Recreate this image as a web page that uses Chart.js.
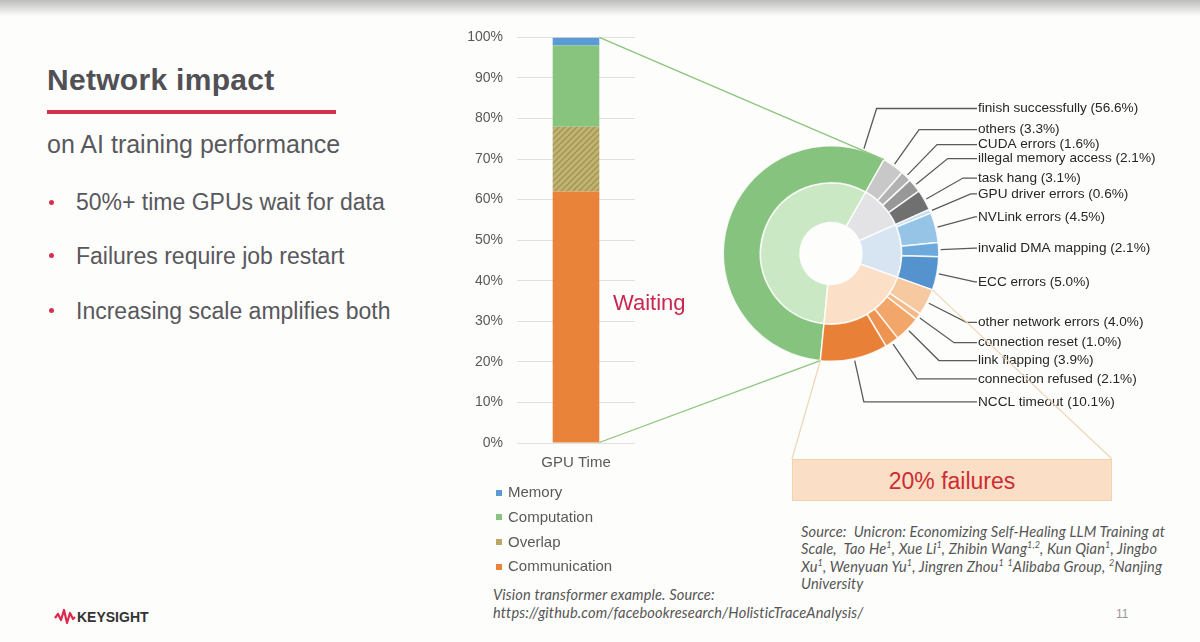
<!DOCTYPE html>
<html>
<head>
<meta charset="utf-8">
<script src="https://cdn.jsdelivr.net/npm/chart.js@4.4.1/dist/chart.umd.min.js"></script>
<style>
  body { margin:0; width:1200px; height:642px; position:relative; overflow:hidden; background:#fdfdfb;
         font-family:"Liberation Sans", Arial, sans-serif; }
  .abs { position:absolute; line-height:1; white-space:nowrap; }
  .topbar { position:absolute; left:0; top:0; width:1200px; height:16px; background:linear-gradient(#bcbcbc,#fdfdfb); }
  .title { left:47px; top:64.6px; font-size:30px; font-weight:bold; color:#505055; letter-spacing:0.3px; }
  .rule { position:absolute; left:47px; top:110px; width:289px; height:3.5px; background:#d6304f; }
  .sub { left:47px; top:131.8px; font-size:25px; color:#58585d; }
  .bul { left:76px; font-size:23px; color:#58585d; }
  .dot { position:absolute; left:48.5px; width:5px; height:5px; border-radius:50%; background:#d6304f; }
  .wait { left:613px; top:292.4px; font-size:22px; color:#c8284f; }
  .leg { left:508px; font-size:15px; color:#595959; }
  .sw { position:absolute; left:496px; width:6px; height:6px; }
  .box { position:absolute; left:792px; top:459px; width:320px; height:42px; box-sizing:border-box;
         background:#fadfc6; border:1px solid #f3d2b0; }
  .box span { position:absolute; left:0; right:0; top:9.5px; text-align:center; font-size:23px; line-height:1; color:#cc2d32; }
  .src, .vis { font-family:Lato, "Liberation Sans", sans-serif; font-style:italic; font-size:14.6px; letter-spacing:0.15px; color:#555; }
  .src { left:801px; }
  .vis { left:493px; }
  .src sup { font-size:9px; line-height:0; }
  canvas { position:absolute; }
</style>
</head>
<body>
<div class="topbar"></div>
<div class="abs title">Network impact</div>
<div class="rule"></div>
<div class="abs sub">on AI training performance</div>
<div class="dot" style="top:199.8px"></div>
<div class="abs bul" style="top:191.2px">50%+ time GPUs wait for data</div>
<div class="dot" style="top:253.1px"></div>
<div class="abs bul" style="top:244.5px">Failures require job restart</div>
<div class="dot" style="top:308.4px"></div>
<div class="abs bul" style="top:299.8px">Increasing scale amplifies both</div>

<canvas id="bar" width="190" height="473" style="left:455px;top:15px;width:190px;height:473px"></canvas>
<div class="abs wait">Waiting</div>
<div id="legend"></div>

<canvas id="donut" width="510" height="330" style="left:690px;top:90px;width:510px;height:330px"></canvas>
<div class="box" id="failBox"><span>20% failures</span></div>

<div class="abs src" style="top:524.5px">Source:&nbsp; Unicron: Economizing Self-Healing LLM Training at</div>
<div class="abs src" style="top:542px">Scale,&nbsp; Tao He<sup>1</sup>, Xue Li<sup>1</sup>, Zhibin Wang<sup>1,2</sup>, Kun Qian<sup>1</sup>, Jingbo</div>
<div class="abs src" style="top:559.5px">Xu<sup>1</sup>, Wenyuan Yu<sup>1</sup>, Jingren Zhou<sup>1</sup> <sup>1</sup>Alibaba Group, <sup>2</sup>Nanjing</div>
<div class="abs src" style="top:577px">University</div>
<div class="abs vis" style="top:588px">Vision transformer example. Source:</div>
<div class="abs vis" style="top:606px">https://github.com/facebookresearch/HolisticTraceAnalysis/</div>
<div class="abs" style="left:1116px;top:608px;font-size:12px;color:#9a9a9a">11</div>

<svg class="abs" style="left:0;top:600px" width="200" height="40">
  <path d="M55,18 L58,14 L61,20 L64,10 L67,23 L70,13 L73,19 L75,17" fill="none" stroke="#e0284f" stroke-width="2.2" stroke-linejoin="round"/>
</svg>
<div class="abs" style="left:77px;top:609.8px;font-size:14px;font-weight:bold;color:#333">KEYSIGHT</div>

<canvas id="overlay" width="1200" height="642" style="left:0;top:0;width:1200px;height:642px;pointer-events:none"></canvas>

<script>
Chart.defaults.font.family = '"Liberation Sans", Arial, sans-serif';

// GPU time breakdown (stacked bar, bottom to top)
const barCategories = ['GPU Time'];
const seriesNames = ['Communication', 'Overlap', 'Computation', 'Memory'];
const communication = [62];
const overlap = [16];
const computation = [20];
const memory = [2];

// failure breakdown (outer ring), clockwise
const failureLabels = ['finish successfully', 'others', 'CUDA errors', 'illegal memory access', 'task hang',
  'GPU driver errors', 'NVLink errors', 'invalid DMA mapping', 'ECC errors', 'other network errors',
  'connection reset', 'link flapping', 'connection refused', 'NCCL timeout'];
const failureShares = [56.6, 3.3, 1.6, 2.1, 3.1, 0.6, 4.5, 2.1, 5.0, 4.0, 1.0, 3.9, 2.1, 10.1];

// grouped categories (inner ring)
const groupLabels = ['success', 'software', 'hardware', 'network'];
const groupShares = [56.6, 10.1, 12.2, 21.1];

const seriesColors = ['rgb(234,131,58)', 'rgb(184,168,100)', 'rgb(137,196,127)', 'rgb(91,155,213)'];
const outerColors = ['rgb(134,195,126)', 'rgb(200,200,200)', 'rgb(178,178,178)', 'rgb(152,152,152)', 'rgb(112,112,112)',
  'rgb(200,222,241)', 'rgb(150,196,230)', 'rgb(110,169,219)', 'rgb(84,147,206)', 'rgb(247,201,160)',
  'rgb(245,185,136)', 'rgb(242,166,106)', 'rgb(238,147,80)', 'rgb(233,128,55)'];
const innerColors = ['rgb(203,232,197)', 'rgb(227,227,229)', 'rgb(215,229,243)', 'rgb(251,223,198)'];

// hatched fill for the overlap segment
function hatch() {
  const c = document.createElement('canvas');
  c.width = 6; c.height = 6;
  const g = c.getContext('2d');
  g.fillStyle = 'rgb(196,178,110)';
  g.fillRect(0, 0, 6, 6);
  g.strokeStyle = 'rgb(152,152,90)';
  g.lineWidth = 1.4;
  g.beginPath();
  g.moveTo(0, 6); g.lineTo(6, 0);
  g.moveTo(-3, 3); g.lineTo(3, -3);
  g.moveTo(3, 9); g.lineTo(9, 3);
  g.stroke();
  return g.createPattern(c, 'repeat');
}

const barValues = [communication, overlap, computation, memory];
const barChart = new Chart(document.getElementById('bar'), {
  type: 'bar',
  data: {
    labels: barCategories,
    datasets: seriesNames.map((name, i) => ({
      label: name,
      data: barValues[i],
      backgroundColor: name === 'Overlap' ? hatch() : seriesColors[i],
      categoryPercentage: 1,
      barPercentage: 0.395
    }))
  },
  options: {
    responsive: false,
    animation: false,
    layout: { padding: { right: 10 } },
    plugins: { legend: { display: false }, tooltip: { enabled: false } },
    scales: {
      x: {
        stacked: true,
        grid: { display: false },
        border: { display: false },
        ticks: { color: '#595959', font: { size: 15 }, padding: 3 },
        afterFit: s => { s.height = 45; }
      },
      y: {
        stacked: true, min: 0, max: 100,
        ticks: { stepSize: 10, callback: v => v + '%', color: '#595959', font: { size: 14 }, padding: 14 },
        grid: { color: '#e0e0e0', drawTicks: false },
        border: { display: false },
        afterFit: s => { s.width = 62; }
      }
    }
  }
});

// vertical legend, top item first
const legend = document.getElementById('legend');
const legendTops = [484.3, 508.8, 533.6, 558.3];
seriesNames.slice().reverse().forEach((name, k) => {
  const i = seriesNames.length - 1 - k;
  const t = legendTops[k];
  legend.insertAdjacentHTML('beforeend',
    `<div class="sw" style="top:${t + 5.4}px;background:${seriesColors[i]}"></div>` +
    `<div class="abs leg" style="top:${t}px">${name}</div>`);
});

// leader lines + labels for the outer ring
const leaders = {
  id: 'leaders',
  afterDraw(chart) {
    const meta = chart.getDatasetMeta(0);
    const ctx = chart.ctx;
    let prevY = -Infinity;
    ctx.save();
    ctx.font = '13.6px "Liberation Sans", Arial, sans-serif';
    ctx.textBaseline = 'middle';
    ctx.fillStyle = '#262626';
    ctx.strokeStyle = '#5a5a5a';
    ctx.lineWidth = 1.3;
    meta.data.forEach((arc, i) => {
      const { x, y, startAngle, endAngle, outerRadius } = arc;
      const a = endAngle - startAngle > Math.PI / 2 ? endAngle - 12 * Math.PI / 180 : (startAngle + endAngle) / 2;
      const r0 = outerRadius + 2;
      const sx = x + Math.cos(a) * r0, sy = y + Math.sin(a) * r0;
      let ly = Math.max(y + Math.sin(a) * 152, prevY + 14);
      prevY = ly;
      const lx = x + 147;
      const t = (ly - y) / Math.sin(a);
      let ex = (isFinite(t) && t > r0) ? x + Math.cos(a) * t : sx;
      ex = Math.min(Math.max(ex, sx), lx - 3);
      ctx.beginPath();
      ctx.moveTo(sx, sy);
      ctx.lineTo(ex, ly);
      ctx.lineTo(lx - 1, ly);
      ctx.stroke();
      ctx.fillText(failureLabels[i] + ' (' + failureShares[i].toFixed(1) + '%)', lx, ly);
    });
    ctx.restore();
  }
};

const donut = new Chart(document.getElementById('donut'), {
  type: 'doughnut',
  data: {
    labels: failureLabels,
    datasets: [
      { data: failureShares, backgroundColor: outerColors, borderColor: 'rgba(255,255,255,0.85)', borderWidth: 1.5, weight: 37.5 },
      { data: groupShares, labels: groupLabels, backgroundColor: innerColors, borderColor: 'rgba(255,255,255,0.85)', borderWidth: 1.5, weight: 40 }
    ]
  },
  options: {
    responsive: false,
    animation: false,
    rotation: -174.3,
    cutout: '28.8%',
    layout: { padding: { left: 32.5, right: 260.5, top: 55, bottom: 58 } },
    plugins: { legend: { display: false }, tooltip: { enabled: false } }
  },
  plugins: [leaders]
});

// zoom connectors between the bar and the rings, and the failure box
(function () {
  const g = document.getElementById('overlay').getContext('2d');
  const bRect = document.getElementById('bar').getBoundingClientRect();
  const dRect = document.getElementById('donut').getBoundingClientRect();
  const boxRect = document.getElementById('failBox').getBoundingClientRect();
  const topBar = barChart.getDatasetMeta(3).data[0];
  const baseBar = barChart.getDatasetMeta(0).data[0];
  const bx = bRect.left + topBar.x + topBar.width / 2;
  const success = donut.getDatasetMeta(0).data[0];
  const network = donut.getDatasetMeta(1).data[3];
  const cx = dRect.left + success.x, cy = dRect.top + success.y, R = success.outerRadius;
  const p = ang => [cx + Math.cos(ang) * R, cy + Math.sin(ang) * R];

  g.lineWidth = 1.3;
  g.strokeStyle = 'rgb(140,196,124)';
  g.beginPath();
  g.moveTo(bx, bRect.top + topBar.y); g.lineTo(...p(success.endAngle));
  g.moveTo(bx, bRect.top + baseBar.base); g.lineTo(...p(success.startAngle));
  g.stroke();

  g.strokeStyle = 'rgb(238,216,186)';
  g.beginPath();
  g.moveTo(...p(network.startAngle)); g.lineTo(boxRect.right, boxRect.top);
  g.moveTo(...p(network.endAngle)); g.lineTo(boxRect.left, boxRect.top);
  g.stroke();
})();
</script>
</body>
</html>
